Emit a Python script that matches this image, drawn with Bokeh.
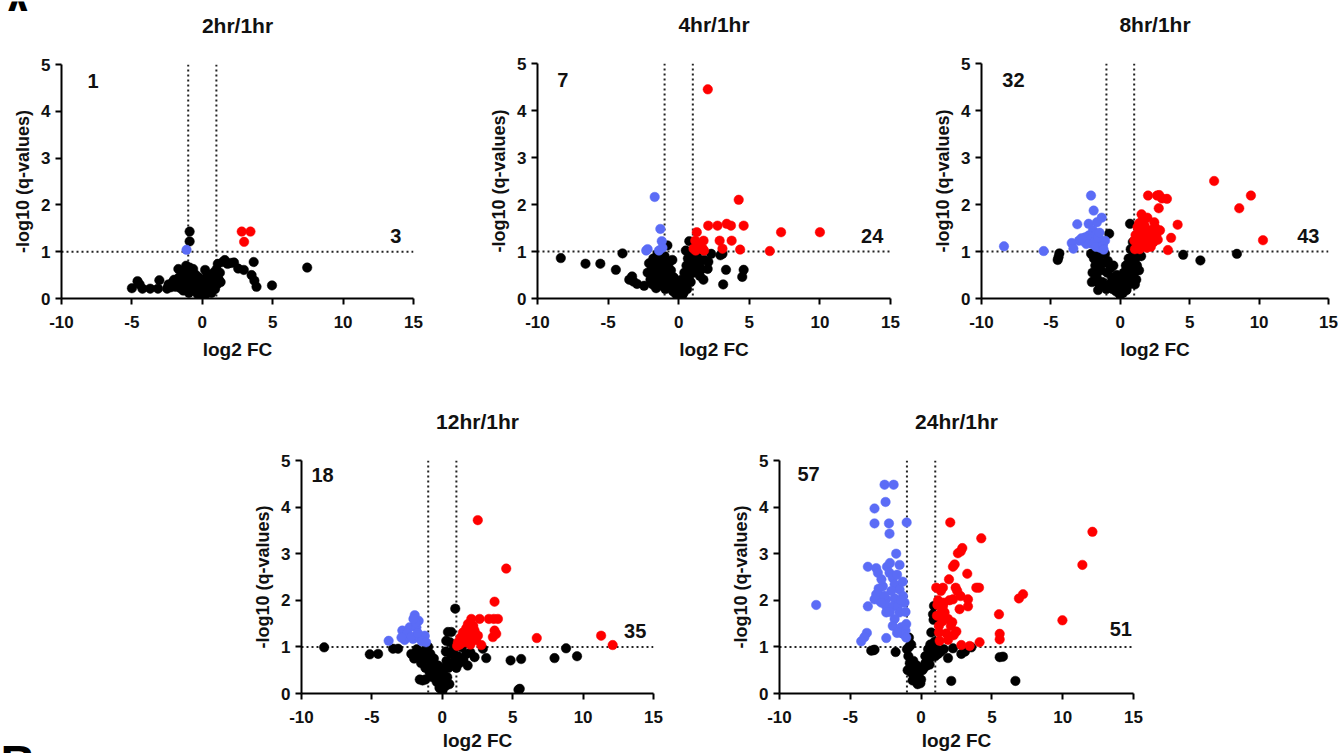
from bokeh.plotting import figure
from bokeh.models import Span, Label, FixedTicker, Range1d, Title, Spacer
from bokeh.layouts import column, row
from bokeh.embed import file_html
from bokeh.resources import INLINE

FONT = "Liberation Sans"
BLACK = "#000000"
BLUE = "#5B6CF6"
RED = "#FF0000"

# ---------------- data ----------------
titles = ["2hr/1hr", "4hr/1hr", "8hr/1hr", "12hr/1hr", "24hr/1hr"]
n_down = [1, 7, 32, 18, 57]
n_up = [3, 24, 43, 35, 51]
fc_cut = [-1, 1]
q_cut = 1
x_ticks = [-10, -5, 0, 5, 10, 15]
y_ticks = [0, 1, 2, 3, 4, 5]
panel_letters = ["A", "B"]

# 2hr/1hr
h2_black = [(-5.0,0.22),(-4.6,0.37),(-4.45,0.30),(-4.25,0.21),(-3.7,0.21),(-3.15,0.21),(-3.05,0.39),(-2.5,0.21),
            (-2.25,0.24),(-2.4,0.30),(-2.1,0.35),(-2.0,0.40),(-1.9,0.25),(-1.8,0.31),(-1.7,0.63),(-1.65,0.45),
            (-1.55,0.22),(-1.5,0.36),(-1.4,0.52),(-1.35,0.17),(-1.3,0.30),(-1.2,0.45),(-1.15,0.70),(-1.1,0.58),
            (-1.05,0.25),(-1.0,0.38),(-0.95,0.12),(-0.9,0.66),(-0.85,0.48),(-0.8,0.30),(-0.75,0.20),(-0.7,0.55),
            (-0.65,0.63),(-0.6,0.40),(-0.55,0.27),(-0.5,0.15),(-0.45,0.50),(-0.4,0.35),(-0.35,0.22),(-0.3,0.08),
            (-0.25,0.45),(-0.2,0.30),(-0.15,0.18),(-0.1,0.05),(-0.05,0.25),(0.0,0.03),(0.05,0.12),(0.1,0.35),
            (0.15,0.22),(0.2,0.61),(0.22,0.08),(0.3,0.45),(0.35,0.28),(0.4,0.15),(0.45,0.38),(0.5,0.22),
            (0.55,0.50),(0.6,0.32),(0.65,0.12),(0.7,0.42),(0.75,0.28),(0.8,0.55),(0.85,0.35),(0.9,0.20),
            (0.95,0.48),(1.0,0.62),(1.05,0.30),(1.1,0.74),(1.15,0.42),(1.25,0.55),(1.3,0.35),(1.45,0.78),
            (1.6,0.82),(1.8,0.74),(2.05,0.76),(2.25,0.77),(2.55,0.64),(2.95,0.61),(3.65,0.78),(3.5,0.50),
            (3.7,0.38),(3.85,0.25),(4.95,0.28),(7.45,0.66),(-0.9,1.22),(-0.9,1.43)]
h2_blue = [(-1.12,1.04)]
h2_red = [(2.8,1.43),(3.42,1.43),(2.97,1.21)]

# 4hr/1hr
h4_black = [(-8.35,0.86),(-6.6,0.74),(-5.55,0.74),(-4.45,0.61),(-3.98,0.96),(-3.5,0.40),(-3.3,0.47),(-3.2,0.36),
            (-2.95,0.31),(-2.45,0.27),(-2.2,0.55),(-2.1,0.75),(-2.0,0.40),(-1.9,0.65),(-1.85,0.30),(-1.8,0.85),
            (-1.7,0.50),(-1.6,0.22),(-1.55,0.70),(-1.5,0.95),(-1.45,0.40),(-1.4,0.60),(-1.3,0.28),(-1.25,0.80),
            (-1.2,0.50),(-1.1,0.68),(-1.05,0.35),(-1.0,0.90),(-0.95,0.20),(-0.85,0.55),(-0.8,1.13),(-0.75,0.40),
            (-0.7,0.75),(-0.6,0.30),(-0.55,0.60),(-0.45,0.82),(-0.4,0.15),(-0.35,0.45),(-0.3,0.25),(-0.2,0.10),
            (-0.1,0.35),(0.0,0.03),(0.05,0.18),(0.1,0.30),(0.15,0.08),(0.2,0.40),(0.3,0.22),(0.35,0.12),
            (0.4,0.55),(0.45,0.30),(0.5,1.02),(0.55,0.70),(0.6,0.20),(0.65,0.85),(0.7,0.45),(0.75,1.22),
            (0.8,0.62),(0.85,0.35),(0.9,0.95),(0.95,0.75),(1.05,0.55),(1.1,0.85),(1.2,0.65),(1.3,0.90),
            (1.45,0.72),(1.5,0.48),(1.6,0.62),(1.75,0.40),(1.8,0.82),(2.05,0.63),(2.1,0.78),(2.3,0.95),
            (2.95,0.92),(3.1,0.95),(3.35,0.61),(3.15,0.30),(4.6,0.61),(4.5,0.46),(0.25,0.06)]
h4_blue = [(-1.7,2.16),(-1.3,1.48),(-1.2,1.22),(-2.2,1.05),(-1.4,1.02),(-2.3,1.02),(-1.15,1.08)]
h4_red = [(2.06,4.45),(4.25,2.10),(2.09,1.55),(2.75,1.55),(3.4,1.59),(3.7,1.55),(4.6,1.55),(7.25,1.41),
          (10.0,1.41),(1.28,1.41),(1.17,1.23),(1.76,1.23),(2.9,1.23),(3.75,1.23),(3.1,1.06),(4.35,1.04),
          (6.45,1.01),(1.05,1.06),(1.57,1.06),(1.8,1.02),(1.33,1.13),(1.2,1.02),(1.5,1.12),(1.7,1.06)]

# 8hr/1hr
h8_black = [(-4.39,0.96),(-4.51,0.82),(-4.45,0.88),(4.53,0.93),(5.77,0.81),(8.4,0.95),(0.70,1.59),(-0.80,1.38),
            (-2.1,0.95),(-1.9,0.85),(-1.6,0.95),(-1.5,0.80),(-1.8,0.70),(-2.0,0.55),(-1.7,0.45),(-2.05,0.35),
            (-1.85,0.38),(-1.4,0.60),(-1.3,0.35),(-1.2,0.75),(-1.1,0.95),(-0.95,0.55),(-0.9,0.80),(-0.8,0.30),
            (-0.7,0.65),(-0.6,0.45),(-0.55,0.20),(-0.5,0.70),(-0.4,0.35),(-0.3,0.15),(-0.25,0.50),(-0.15,0.28),
            (-0.05,0.10),(0.0,0.08),(0.05,0.20),(0.1,0.40),(0.2,0.12),(0.25,0.55),(0.3,0.30),(0.4,0.70),
            (0.45,0.18),(0.5,0.45),(0.6,0.85),(0.65,0.30),(0.7,0.60),(0.75,1.05),(0.8,0.40),(0.85,0.75),
            (0.9,1.20),(0.95,0.95),(1.0,0.55),(1.1,0.85),(1.2,0.70),(1.15,0.40),(1.3,0.98),(1.35,0.60),
            (1.5,0.90),(1.05,0.30),(-1.0,0.20),(-1.5,0.30),(-1.6,0.18)]
h8_blue = [(-8.38,1.11),(-5.52,1.01),(-2.11,2.19),(-1.92,1.87),(-3.10,1.58),(-2.28,1.59),(-1.69,1.62),(-1.34,1.72),
           (-1.97,1.45),(-2.98,1.23),(-3.50,1.18),(-3.38,1.06),(-2.70,1.23),(-2.39,1.25),(-1.80,1.36),(-1.69,1.23),
           (-1.34,1.22),(-1.10,1.23),(-2.04,1.16),(-1.57,1.11),(-2.28,1.34),(-1.46,1.08),(-2.55,1.30),(-2.15,1.26),
           (-1.90,1.20),(-2.45,1.16),(-1.75,1.10),(-1.25,1.12),(-2.80,1.28),(-1.60,1.30),(-1.20,1.04),(-1.50,1.40)]
h8_red = [(6.76,2.50),(9.41,2.19),(8.57,1.92),(10.28,1.24),(2.0,2.19),(2.65,2.19),(3.0,2.13),(3.36,2.12),
          (2.77,1.92),(2.8,2.20),(1.53,1.79),(1.95,1.72),(4.13,1.57),(2.86,1.45),(3.66,1.29),(3.43,1.03),
          (1.24,1.52),(1.01,1.23),(1.6,1.65),(1.4,1.45),(1.8,1.40),(2.2,1.45),(2.5,1.52),(2.6,1.35),
          (2.3,1.30),(1.5,1.30),(1.3,1.20),(1.7,1.25),(2.0,1.20),(2.4,1.20),(1.1,1.35),(1.2,1.10),
          (1.6,1.12),(1.9,1.08),(2.2,1.10),(1.4,1.05),(1.05,1.05),(2.7,1.25),(2.1,1.35),(1.75,1.55),
          (2.45,1.62),(1.35,1.60),(1.85,1.18)]

# 12hr/1hr
h12_black = [(-8.39,0.99),(-5.15,0.84),(-4.56,0.85),(-3.5,0.96),(-3.14,0.96),(0.92,1.82),(0.64,1.32),(0.4,1.32),
             (0.28,1.13),(1.39,0.99),(2.29,0.78),(3.12,0.76),(4.85,0.71),(5.6,0.74),(7.97,0.76),(8.79,0.97),
             (9.57,0.8),(5.41,0.08),(5.5,0.1),(2.88,0.96),(1.7,0.85),(-2.2,0.85),(-2.0,0.75),(-1.8,0.95),
             (-1.6,0.80),(-1.5,0.65),(-1.3,0.90),(-1.2,0.55),(-1.1,0.75),(-1.0,1.0),(-0.9,0.45),(-0.85,0.85),
             (-0.8,0.62),(-0.7,0.35),(-0.6,0.75),(-0.5,0.50),(-0.4,0.25),(-0.3,0.60),(-0.2,0.12),(-0.15,0.40),
             (-1.6,0.30),(-1.4,0.28),(-1.2,0.30),(0.0,0.05),(0.1,0.28),(0.15,0.55),(0.2,0.15),(0.3,0.70),
             (0.35,0.35),(0.45,0.55),(0.5,0.20),(0.6,0.85),(0.7,0.60),(0.8,0.95),(0.9,0.70),(1.0,0.55),
             (1.1,0.80),(1.2,0.65),(1.5,0.72),(1.8,0.60),(2.0,0.88),(0.55,1.10),(0.25,0.90),(-0.1,0.30),
             (0.05,0.45)]
h12_blue = [(-1.96,1.68),(-1.68,1.56),(-2.84,1.35),(-2.32,1.42),(-1.84,1.42),(-3.81,1.13),(-2.67,1.15),(-2.08,1.17),
            (-1.61,1.18),(-1.25,1.24),(-2.5,1.30),(-1.9,1.52),(-2.2,1.22),(-1.45,1.12),(-1.15,1.10),(-2.9,1.20),
            (-1.75,1.30),(-2.05,1.60)]
h12_red = [(2.52,3.72),(4.54,2.68),(3.71,1.97),(2.06,1.6),(2.65,1.6),(3.31,1.6),(3.66,1.6),(3.95,1.6),
           (3.71,1.35),(3.59,1.21),(3.83,1.28),(6.71,1.19),(11.28,1.24),(12.1,1.04),(1.82,1.49),(1.47,1.31),
           (2.29,1.35),(1.78,1.21),(2.06,1.13),(2.77,1.04),(1.11,1.10),(2.53,1.24),(1.05,1.02),(1.3,1.20),
           (1.6,1.10),(1.9,1.30),(2.2,1.45),(2.4,1.15),(1.25,1.05),(1.7,1.40),(2.0,1.05),(2.35,1.28),
           (1.55,1.22),(2.15,1.25),(1.4,1.12)]

# 24hr/1hr
h24_black = [(-3.52,0.92),(-3.35,0.93),(-3.29,0.94),(-1.8,0.89),(-0.86,1.2),(-0.7,1.05),(0.91,1.88),(0.84,1.70),
             (0.88,1.58),(0.72,1.31),(0.95,1.11),(2.25,0.97),(2.84,0.85),(3.1,0.90),(3.55,0.99),(5.55,0.78),
             (5.78,0.79),(2.13,0.27),(6.66,0.27),(1.9,0.76),(-1.0,0.95),(-0.9,0.80),(-0.8,0.65),(-0.95,0.50),
             (-0.7,0.45),(-0.6,0.55),(-0.5,0.35),(-0.4,0.40),(-0.3,0.30),(-0.2,0.25),(-0.1,0.30),(-0.15,0.45),
             (0.0,0.30),(0.1,0.50),(0.2,0.55),(0.3,0.65),(0.4,0.60),(0.5,0.70),(0.6,0.75),(0.7,0.85),
             (0.8,0.90),(0.9,1.00),(1.0,0.80),(1.1,0.95),(1.2,0.85),(1.4,0.90),(1.6,0.95),(0.5,0.95),
             (0.3,0.80),(-0.55,0.70),(-0.85,1.0),(0.65,1.05),(0.6,0.62),(-0.3,0.60),(-0.6,0.28),(-0.25,0.20),
             (-0.05,0.22)]
h24_blue = [(-2.58,4.48),(-1.94,4.48),(-2.51,4.11),(-3.29,3.97),(-3.29,3.65),(-2.27,3.65),(-1.02,3.67),(-2.23,3.43),
            (-1.76,3.0),(-1.52,2.76),(-3.76,2.72),(-3.17,2.69),(-2.41,2.72),(-3.05,2.59),(-2.23,2.59),(-2.0,2.48),
            (-2.7,2.30),(-1.87,2.34),(-1.52,2.23),(-3.17,2.13),(-3.29,2.02),(-2.93,1.99),(-2.46,2.02),(-1.87,2.04),
            (-1.28,2.09),(-1.17,1.95),(-3.76,1.87),(-2.46,1.87),(-2.0,1.87),(-1.64,1.87),(-2.1,2.2),(-7.41,1.9),
            (-2.46,1.74),(-1.52,1.74),(-1.87,1.6),(-2.0,1.45),(-1.40,1.42),(-1.05,1.49),(-1.1,1.35),(-1.28,1.28),
            (-3.83,1.30),(-4.0,1.21),(-4.23,1.12),(-2.46,1.19),(-1.52,1.31),(-1.05,1.20),(-2.8,2.45),(-2.2,2.80),
            (-1.7,2.55),(-1.3,2.40),(-2.6,2.10),(-3.0,2.25),(-1.4,2.0),(-1.1,1.75),(-2.2,1.75),(-1.7,1.30),
            (-2.8,1.95)]
h24_red = [(2.06,3.67),(4.25,3.33),(12.1,3.47),(11.39,2.76),(2.91,3.12),(2.6,3.01),(2.25,2.72),(2.37,2.77),
           (3.26,2.57),(1.97,2.45),(3.9,2.27),(4.09,2.27),(1.07,2.27),(1.54,2.27),(2.44,2.27),(2.79,2.09),
           (2.25,2.02),(3.31,2.02),(3.31,1.87),(6.91,2.04),(7.2,2.13),(1.54,1.87),(1.43,1.74),(1.66,1.74),
           (5.5,1.70),(9.98,1.57),(1.26,1.45),(2.2,1.53),(1.26,1.31),(1.78,1.29),(2.49,1.33),(5.55,1.28),
           (5.55,1.16),(1.31,1.13),(2.84,1.04),(3.43,1.02),(4.13,1.1),(1.9,1.6),(1.12,1.67),(2.72,1.81),
           (2.8,3.05),(1.4,2.2),(2.0,2.0),(2.55,2.2),(1.6,1.95),(2.3,1.25),(1.9,1.15),(1.2,2.0),
           (2.1,1.45),(1.15,1.90),(1.5,1.55)]

blacks = [h2_black, h4_black, h8_black, h12_black, h24_black]
blues = [h2_blue, h4_blue, h8_blue, h12_blue, h24_blue]
reds = [h2_red, h4_red, h8_red, h12_red, h24_red]

# ---------------- layout (positions / styles) ----------------
LETTER_H_A = 11   # strip above panel 1 that shows the cut-off letter A
LETTER_H_B = 22   # strip at the bottom-left that shows the cut-off letter B
LETTER_W = 40
geo = [
    dict(l=61, fw=352, r=40, t=63 - LETTER_H_A, fh=235, b=84, dpos=(-7.75, 4.65), upos=(13.75, 1.34), xs=8),
    dict(l=84, fw=353, r=40, t=63, fh=235, b=84, dpos=(-8.2, 4.65), upos=(13.7, 1.34), xs=8),
    dict(l=44, fw=354, r=10, t=63, fh=235, b=84, dpos=(-7.7, 4.65), upos=(13.55, 1.34), xs=8),
    dict(l=301 - LETTER_W, fw=352, r=40, t=78, fh=235, b=58, dpos=(-8.5, 4.68), upos=(13.7, 1.35), xs=4),
    dict(l=86, fw=354, r=10, t=78, fh=235, b=58, dpos=(-7.95, 4.70), upos=(14.1, 1.38), xs=4),
]


def panel(i):
    g = geo[i]
    p = figure(width=g["l"] + g["fw"] + g["r"], height=g["t"] + g["fh"] + g["b"],
               x_range=Range1d(-10, 15), y_range=Range1d(0, 5),
               output_backend="svg", toolbar_location=None,
               min_border_left=g["l"], min_border_right=g["r"],
               min_border_top=g["t"], min_border_bottom=g["b"])
    p.outline_line_color = None
    p.grid.visible = False
    p.background_fill_color = "white"
    p.border_fill_color = "white"
    p.title.text = ""
    p.title.standoff = 0

    # blank spacer strip above the frame, then the panel title above it
    p.add_layout(Title(text=" ", text_font=FONT, text_font_size="10px", standoff=14.5), "above")
    p.add_layout(Title(text=titles[i], align="center", vertical_align="bottom", text_font=FONT,
                       text_font_size="21px", text_font_style="bold", text_color="#111111",
                       standoff=0), "above")

    p.xaxis.axis_label = "log2 FC"
    p.yaxis.axis_label = "-log10 (q-values)"
    p.xaxis.ticker = FixedTicker(ticks=x_ticks)
    p.yaxis.ticker = FixedTicker(ticks=y_ticks)
    p.xaxis.major_label_overrides = {t: str(t) for t in x_ticks}
    p.yaxis.major_label_overrides = {t: str(t) for t in y_ticks}
    for ax in (p.xaxis[0], p.yaxis[0]):
        ax.axis_line_width = 2
        ax.axis_line_color = BLACK
        ax.major_tick_line_width = 2
        ax.major_tick_line_color = BLACK
        ax.major_tick_out = 6
        ax.major_tick_in = 0
        ax.minor_tick_line_color = None
        ax.major_label_text_font = FONT
        ax.major_label_text_font_size = "17px"
        ax.major_label_text_font_style = "bold"
        ax.major_label_text_color = "#111111"
        ax.axis_label_text_font = FONT
        ax.axis_label_text_font_style = "bold"
        ax.axis_label_text_color = "#111111"
    p.xaxis.axis_label_text_font_size = "19px"
    p.yaxis.axis_label_text_font_size = "18px"
    p.xaxis.major_label_standoff = 11
    p.yaxis.major_label_standoff = 5
    p.xaxis.axis_label_standoff = g["xs"]
    p.yaxis.axis_label_standoff = 5

    for loc in fc_cut:
        p.add_layout(Span(location=loc, dimension="height", line_color="#222222",
                          line_width=2, line_dash="2 3", level="underlay"))
    p.add_layout(Span(location=q_cut, dimension="width", line_color="#222222",
                      line_width=2, line_dash="2 3", level="underlay"))

    for pts, col in ((blacks[i], BLACK), (blues[i], BLUE), (reds[i], RED)):
        p.scatter([a for a, b in pts], [b for a, b in pts], size=9.5,
                  fill_color=col, line_color=col, line_width=0.5)

    for txt, pos in ((str(n_down[i]), g["dpos"]), (str(n_up[i]), g["upos"])):
        p.add_layout(Label(x=pos[0], y=pos[1], text=txt, text_align="center",
                           text_baseline="middle", text_font=FONT,
                           text_font_size="20px", text_font_style="bold",
                           text_color="#111111"))
    return p


def letter_strip(letter, h, anchor_y, baseline):
    # a tiny pixel-scaled canvas that shows only part of a big panel letter
    q = figure(width=LETTER_W, height=h, x_range=Range1d(0, LETTER_W), y_range=Range1d(0, h),
               output_backend="svg", toolbar_location=None,
               x_axis_location=None, y_axis_location=None, min_border=0)
    q.outline_line_color = None
    q.grid.visible = False
    q.background_fill_color = "white"
    q.border_fill_color = "white"
    q.title.text = ""
    q.title.standoff = 0
    q.add_layout(Label(x=0, y=anchor_y, text=letter, text_align="left",
                       text_baseline=baseline, text_font=FONT,
                       text_font_size="48px", text_font_style="bold", text_color=BLACK))
    return q


figs = [panel(i) for i in range(5)]
stripA = letter_strip(panel_letters[0], LETTER_H_A, 0, "alphabetic")
stripB = letter_strip(panel_letters[1], LETTER_H_B, 18, "top")

row1 = row(column(stripA, figs[0]), figs[1], figs[2])
row2 = row(column(Spacer(width=LETTER_W, height=figs[3].height - LETTER_H_B), stripB), figs[3], figs[4])
layout = column(row1, row2)
open("out.html", "w").write(file_html(layout, INLINE))
